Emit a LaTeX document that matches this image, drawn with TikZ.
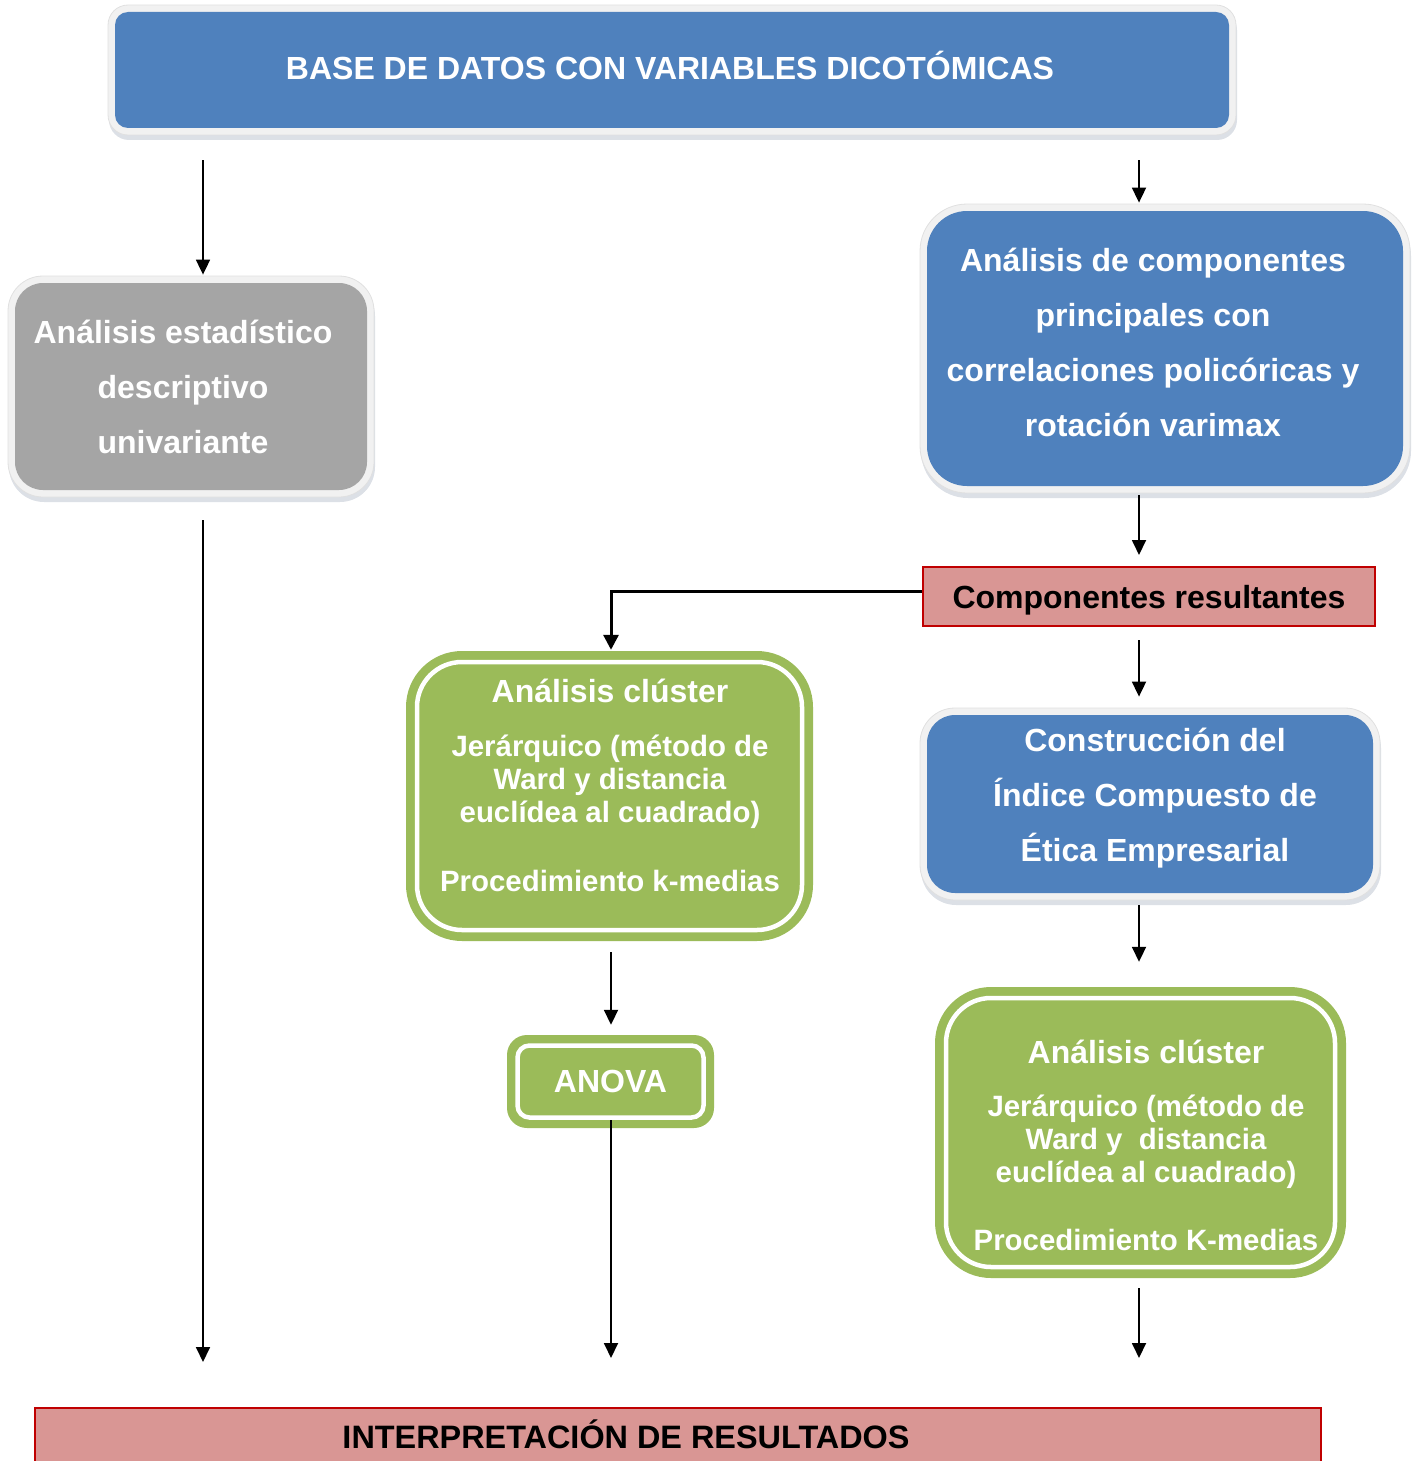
\documentclass[tikz,border=0pt]{standalone}
\usepackage{fontspec}
\setmainfont{Liberation Sans}
\usetikzlibrary{arrows.meta,shadows}
\definecolor{bfill}{HTML}{4F81BD}
\definecolor{gfill}{HTML}{A5A5A5}
\definecolor{grfill}{HTML}{9BBB59}
\definecolor{pfill}{HTML}{D99694}
\definecolor{redb}{HTML}{C00000}
\definecolor{ringc}{HTML}{F1F1F1}
\definecolor{ringedge}{HTML}{E0E0E0}
\definecolor{shcol}{HTML}{8A97AD}
\tikzset{
  panel/.style n args={3}{shape=rectangle, inner sep=0pt, rounded corners=#2,
    fill=ringc, draw=ringedge, line width=0.8pt,
    drop shadow={shadow xshift=1pt, shadow yshift=-5pt, opacity=0.3, fill=shcol},
    path picture={\fill[#1, rounded corners=#3]
      ([shift={(7pt,7pt)}]path picture bounding box.south west) rectangle
      ([shift={(-7pt,-7pt)}]path picture bounding box.north east);}},
  greenpanel/.style n args={3}{shape=rectangle, inner sep=0pt, rounded corners=#1,
    fill=grfill,
    path picture={\draw[white, line width=4.5pt, rounded corners=#3]
      ([shift={(#2,#2)}]path picture bounding box.south west) rectangle
      ([shift={(-#2,-#2)}]path picture bounding box.north east);}},
  redbox/.style={shape=rectangle, inner sep=0pt, fill=pfill, draw=redb, line width=2pt},
  ptext/.style={text=white, inner sep=0pt, align=center},
  big/.style={font=\fontsize{32}{55}\selectfont\bfseries},
  gtxt/.style={font=\fontsize{29.4}{33}\selectfont\bfseries},
  arr/.style={-{Triangle[width=14pt,length=15pt]}, line width=1.8pt},
  arrthick/.style={-{Triangle[width=15pt,length=15pt]}, line width=3pt},
}
\begin{document}
\begin{tikzpicture}[x=1pt,y=-1pt]
\useasboundingbox (0,0) rectangle (1422,1461);
\clip (0,0) rectangle (1422,1461);
% boxes
\node[panel={bfill}{20pt}{13pt}, minimum width=1128pt, minimum height=130pt] (top) at (672,70) {};
\node[ptext, font=\fontsize{32}{38}\selectfont\bfseries, text height=23pt, text depth=0pt] (topT) at (670,68) {BASE DE DATOS CON VARIABLES DICOTÓMICAS};

\node[panel={gfill}{35pt}{28pt}, minimum width=366pt, minimum height=221pt] (gray) at (191,386.5) {};
\node[ptext, big] (grayT) at (183,387) {Análisis estadístico\\descriptivo\\univariante};

\node[panel={bfill}{47pt}{40pt}, minimum width=490pt, minimum height=289pt] (acp) at (1165,348.5) {};
\node[ptext, big] (acpT) at (1153,342.5) {Análisis de componentes\\principales con\\correlaciones policóricas y\\rotación varimax};

\node[redbox, minimum width=452pt, minimum height=59pt, font=\fontsize{32}{38}\selectfont\bfseries, text depth=0pt] (comp) at (1149,596.5) {Componentes resultantes};

\node[greenpanel={56pt}{11pt}{45pt}, minimum width=407pt, minimum height=290pt] (g1) at (609.5,796) {};
\node[ptext, gtxt] (g1T) at (610,785.5) {{\fontsize{32}{33}\selectfont Análisis clúster}\\[21pt]Jerárquico (método de\\Ward y distancia\\euclídea al cuadrado)\\[36pt]Procedimiento k-medias};

\node[panel={bfill}{35pt}{28pt}, minimum width=460pt, minimum height=192pt] (blue2) at (1150,804) {};
\node[ptext, big] (blue2T) at (1155,798.5) {Construcción del\\Índice Compuesto de\\Ética Empresarial};

\node[greenpanel={20pt}{10.5pt}{12pt}, minimum width=207pt, minimum height=93pt, text=white, font=\fontsize{32}{38}\selectfont\bfseries] (anova) at (610.5,1081.5) {ANOVA};

\node[greenpanel={56pt}{11pt}{45pt}, minimum width=411pt, minimum height=291pt] (g2) at (1140.5,1132.5) {};
\node[ptext, gtxt] (g2T) at (1146,1145.5) {{\fontsize{32}{33}\selectfont Análisis clúster}\\[20pt]Jerárquico (método de\\Ward y~ distancia\\euclídea al cuadrado)\\[35pt]Procedimiento K-medias};

\node[redbox, minimum width=1286pt, minimum height=80pt] (interp) at (678,1448) {};
\node[inner sep=0pt, font=\fontsize{32.4}{38}\selectfont\bfseries, text height=23pt, text depth=0pt] (interpT) at (626,1437) {INTERPRETACIÓN DE RESULTADOS};

% connector columns
\coordinate (xL) at (203,0);
\coordinate (xM) at (611,0);
\coordinate (xR) at (1139,0);

\draw[arr, shorten <=25pt, shorten >=1pt] (top.south -| xL) -- (gray.north -| xL);
\draw[arr, shorten <=25pt, shorten >=1pt] (top.south -| xR) -- (acp.north -| xR);
\draw[arr, shorten <=2pt, shorten >=11pt] (acp.south -| xR) -- (comp.north -| xR);
\draw[arrthick, shorten >=1pt] ([yshift=5pt]comp.west) -| (g1.north -| xM);
\draw[arr, shorten <=13pt, shorten >=11pt] (comp.south -| xR) -- (blue2.north -| xR);
\draw[arr, shorten <=11pt, shorten >=10pt] (g1.south -| xM) -- (anova.north -| xM);
\draw[arr, shorten >=49pt] ([yshift=8pt]anova.south -| xM) -- (interp.north -| xM);
\draw[arr, shorten <=5pt, shorten >=25pt] (blue2.south -| xR) -- (g2.north -| xR);
\draw[arr, shorten <=10pt, shorten >=49pt] (g2.south -| xR) -- (interp.north -| xR);
\draw[arr, shorten <=23pt, shorten >=45pt] (gray.south -| xL) -- (interp.north -| xL);
\end{tikzpicture}
\end{document}
